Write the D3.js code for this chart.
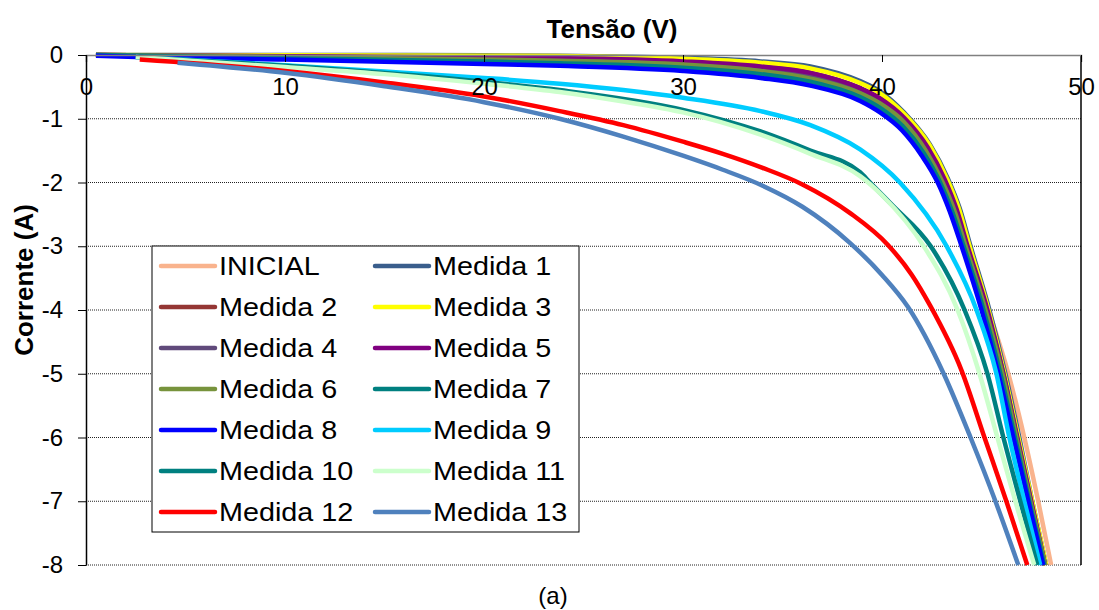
<!DOCTYPE html>
<html>
<head>
<meta charset="utf-8">
<script src="https://cdn.jsdelivr.net/npm/d3@7"></script>
<style>
  body { margin: 0; background: #fff; }
  svg { display: block; font-family: Arial, "Liberation Sans", sans-serif; }
</style>
</head>
<body>
<script>
// curves: [tensão (V), corrente (A)]
const inicial = [[0.5,0],[10,-0.02],[20,-0.04],[30,-0.1],[33.9,-0.18],[36.4,-0.28],[38.9,-0.52],[39.9,-0.68],[41.1,-0.98],[42.3,-1.45],[43.15,-1.95],[43.75,-2.42],[44.3,-3],[45.35,-4],[46.35,-5],[47.15,-6],[47.85,-7],[48.5,-8]]
const medida1 = [[0.5,0],[10,0],[20,-0.005],[23.8,-0.01],[30,-0.045],[33.9,-0.1],[36.4,-0.18],[38.9,-0.41],[39.9,-0.57],[41.1,-0.9],[42.4,-1.4],[43.3,-1.93],[43.9,-2.4],[44.45,-3],[45.4,-4],[46.2,-5],[46.9,-6],[47.55,-7],[48.25,-8]]
const medida2 = [[0.5,0],[10,-0.02],[20,-0.04],[23.8,-0.05],[30,-0.1],[33.9,-0.18],[36.4,-0.28],[38.9,-0.52],[39.9,-0.68],[41.1,-0.98],[42.3,-1.45],[43.15,-1.95],[43.75,-2.42],[44.3,-3],[45.3,-4],[46.1,-5],[46.8,-6],[47.5,-7],[48.2,-8]]
const medida3 = [[0.5,0],[10,-0.005],[20,-0.01],[23.8,-0.016],[30,-0.06],[33.9,-0.12],[36.4,-0.21],[38.9,-0.44],[39.9,-0.6],[41.1,-0.92],[42.4,-1.42],[43.25,-1.93],[43.85,-2.4],[44.4,-3],[45.35,-4],[46.15,-5],[46.85,-6],[47.55,-7],[48.25,-8]]
const medida4 = [[0.5,0],[10,-0.025],[20,-0.05],[23.8,-0.07],[30,-0.12],[33.9,-0.22],[36.4,-0.33],[38.9,-0.56],[39.9,-0.72],[41.1,-1.01],[42.25,-1.47],[43.1,-1.97],[43.7,-2.43],[44.25,-3],[45.25,-4],[46.1,-5],[46.78,-6],[47.48,-7],[48.2,-8]]
const medida5 = [[0.5,0],[10,-0.02],[20,-0.04],[23.8,-0.05],[30,-0.1],[33.9,-0.18],[36.4,-0.28],[38.9,-0.52],[39.9,-0.68],[41.1,-0.98],[42.3,-1.45],[43.15,-1.95],[43.75,-2.42],[44.3,-3],[45.3,-4],[46.1,-5],[46.8,-6],[47.5,-7],[48.2,-8]]
const medida6 = [[0.5,0],[10,-0.03],[20,-0.07],[23.8,-0.09],[30,-0.15],[33.9,-0.25],[36.4,-0.37],[38.9,-0.6],[39.9,-0.76],[41.1,-1.05],[42.2,-1.5],[43.05,-2],[43.65,-2.45],[44.2,-3],[45.2,-4],[46.05,-5],[46.75,-6],[47.45,-7],[48.2,-8]]
const medida7 = [[0.5,0],[10,-0.05],[20,-0.1],[23.8,-0.13],[30,-0.2],[33.9,-0.3],[36.4,-0.42],[38.9,-0.66],[39.9,-0.83],[41.05,-1.12],[42.1,-1.54],[42.92,-2],[43.52,-2.45],[44.1,-3],[45.1,-4],[45.95,-5],[46.68,-6],[47.4,-7],[48.15,-8]]
const medida8 = [[0.5,-0.01],[2.5,-0.03],[10,-0.07],[20,-0.14],[23.8,-0.17],[30,-0.25],[33.9,-0.36],[36.4,-0.48],[38.9,-0.72],[39.9,-0.9],[41,-1.18],[42,-1.58],[42.8,-2],[43.4,-2.45],[44,-3],[45,-4],[45.85,-5],[46.6,-6],[47.35,-7],[48.1,-8]]
const medida9 = [[2.5,-0.03],[10,-0.16],[15,-0.26],[20,-0.36],[23.8,-0.45],[27,-0.55],[30,-0.67],[33.9,-0.88],[36.4,-1.1],[38.9,-1.48],[40.9,-2],[43.25,-3],[44.75,-4],[45.75,-5],[46.4,-6],[47.15,-7],[47.95,-8]]
const medida10 = [[2.5,-0.03],[10,-0.17],[20,-0.42],[23.8,-0.55],[30,-0.86],[33.9,-1.2],[36.4,-1.5],[38.9,-1.84],[39.4,-2],[40.5,-2.35],[42.45,-3],[44.15,-4],[45.3,-5],[46.1,-6],[46.95,-7],[47.8,-8]]
const medida11 = [[2.5,-0.03],[10,-0.19],[15,-0.3],[20,-0.45],[23.8,-0.58],[27,-0.73],[30,-0.9],[33.9,-1.25],[36.4,-1.55],[38.9,-1.9],[40,-2.2],[42.1,-3],[43.8,-4],[44.9,-5],[45.8,-6],[46.7,-7],[47.65,-8]]
const medida12 = [[2.7,-0.07],[10,-0.25],[15,-0.43],[20,-0.65],[23.8,-0.88],[27,-1.1],[30,-1.36],[32,-1.55],[34,-1.77],[36,-2.03],[38.4,-2.48],[40.3,-2.98],[41.5,-3.45],[42.4,-3.92],[44,-4.95],[45.15,-6],[46.25,-7],[47.3,-8]]
const medida13 = [[4.6,-0.12],[10,-0.28],[15,-0.49],[20,-0.74],[23.8,-1],[27,-1.28],[30,-1.58],[32,-1.8],[34,-2.05],[36,-2.38],[38.4,-2.95],[40,-3.45],[41.3,-3.95],[43.1,-5],[44.45,-6],[45.7,-7],[46.85,-8]]

const seriesNames = ['INICIAL', 'Medida 1', 'Medida 2', 'Medida 3', 'Medida 4', 'Medida 5', 'Medida 6',
    'Medida 7', 'Medida 8', 'Medida 9', 'Medida 10', 'Medida 11', 'Medida 12', 'Medida 13']
const seriesValues = [inicial, medida1, medida2, medida3, medida4, medida5, medida6,
    medida7, medida8, medida9, medida10, medida11, medida12, medida13]
const seriesColors = ['#F9B38D', '#3A5E8C', '#943634', '#FFFF00', '#604A7B', '#800080', '#77933C',
    '#008080', '#0000FF', '#00CCFF', '#008080', '#CCFFCC', '#FF0000', '#4F81BD']

const xTicks = [0, 10, 20, 30, 40, 50]
const yTicks = [0, -1, -2, -3, -4, -5, -6, -7, -8]

const width = 1099, height = 610
const plot = {left: 86, right: 1081, top: 55, bottom: 565}

const svg = d3.select('body').append('svg')
    .attr('width', width)
    .attr('height', height)

const x = d3.scaleLinear().domain([0, 50]).range([plot.left, plot.right])
const y = d3.scaleLinear().domain([-8, 0]).range([plot.bottom, plot.top])

// gridlines (dotted)
svg.append('g')
    .selectAll('line')
    .data(yTicks.filter(d => d !== 0))
    .join('line')
    .attr('x1', plot.left)
    .attr('x2', plot.right)
    .attr('y1', d => y(d))
    .attr('y2', d => y(d))
    .attr('stroke', '#222')
    .attr('stroke-width', 1)
    .attr('stroke-dasharray', '1,1')

// plot border on the right
svg.append('line')
    .attr('x1', plot.right).attr('x2', plot.right)
    .attr('y1', plot.top).attr('y2', plot.bottom)
    .attr('stroke', '#000')
    .attr('stroke-width', 1.5)

// curves
const line = d3.line()
    .x(d => x(d[0]))
    .y(d => y(d[1]))
    .curve(d3.curveMonotoneX)

svg.append('g')
    .attr('fill', 'none')
    .attr('stroke-linejoin', 'round')
    .selectAll('path')
    .data(seriesValues)
    .join('path')
    .attr('stroke', (d, i) => seriesColors[i])
    .attr('stroke-width', 4.5)
    .attr('d', line)

// x axis along y = 0, labels below it
const xAxis = svg.append('g')
    .attr('transform', `translate(0,${y(0)})`)
    .call(d3.axisBottom(x).tickValues(xTicks).tickSize(7).tickPadding(16).tickFormat(d3.format('d')))
xAxis.select('.domain').attr('stroke', '#808080').attr('stroke-width', 1.5)
xAxis.selectAll('.tick line').attr('stroke', '#000')
xAxis.selectAll('.tick text')
    .attr('font-size', 24)
    .attr('font-family', 'Arial, "Liberation Sans", sans-serif')
    .attr('fill', '#000')

// y axis
const yAxis = svg.append('g')
    .attr('transform', `translate(${plot.left},0)`)
    .call(d3.axisLeft(y).tickValues(yTicks).tickSize(8).tickPadding(15).tickSizeOuter(0).tickFormat(d3.format('d')))
yAxis.select('.domain').attr('stroke', '#000').attr('stroke-width', 1.5)
yAxis.selectAll('.tick line').attr('stroke', '#000')
yAxis.selectAll('.tick text')
    .attr('font-size', 24)
    .attr('font-family', 'Arial, "Liberation Sans", sans-serif')
    .attr('fill', '#000')
    .text(d => d3.format('d')(d).replace('−', '-'))

// titles
svg.append('text')
    .attr('x', 612)
    .attr('y', 38)
    .attr('text-anchor', 'middle')
    .attr('font-weight', 'bold')
    .attr('font-size', 26)
    .text('Tensão (V)')

svg.append('text')
    .attr('transform', 'translate(33,280) rotate(-90)')
    .attr('text-anchor', 'middle')
    .attr('font-weight', 'bold')
    .attr('font-size', 26)
    .text('Corrente (A)')

svg.append('text')
    .attr('x', 553)
    .attr('y', 604)
    .attr('text-anchor', 'middle')
    .attr('font-size', 24)
    .text('(a)')

// legend, two columns
const legend = svg.append('g')
legend.append('rect')
    .attr('x', 152).attr('y', 246)
    .attr('width', 427).attr('height', 286)
    .attr('fill', '#fff')
    .attr('stroke', '#000')
    .attr('stroke-width', 1)

const item = legend.selectAll('g.item')
    .data(seriesNames)
    .join('g')
    .attr('class', 'item')
    .attr('transform', (d, i) => `translate(${161 + (i % 2) * 214},${266 + Math.floor(i / 2) * 41})`)

item.append('line')
    .attr('x1', 0).attr('x2', 54)
    .attr('stroke', (d, i) => seriesColors[i])
    .attr('stroke-width', 4.5)
    .attr('stroke-linecap', 'round')

item.append('text')
    .attr('transform', 'translate(58,9) scale(1.15,1)')
    .attr('font-size', 25)
    .text(d => d)
</script>
</body>
</html>
